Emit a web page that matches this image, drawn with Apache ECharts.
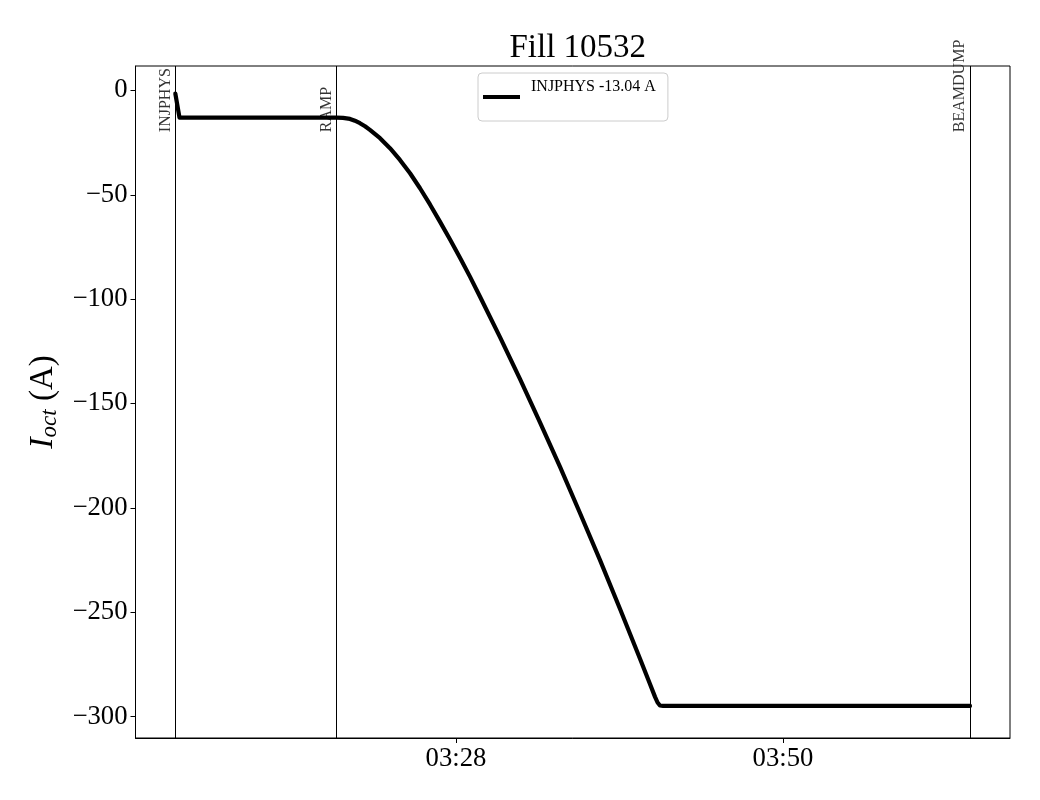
<!DOCTYPE html>
<html>
<head>
<meta charset="utf-8">
<script src="https://cdn.jsdelivr.net/npm/echarts@6/dist/echarts.min.js"></script>
<style>html,body{margin:0;padding:0;background:#fff;}#c{width:1040px;height:800px;}</style>
</head>
<body>
<div id="c"></div>
<script>
// time in minutes since 00:00 on the fill day
const timeMin = [189.12, 189.40, 199.96, 200.40, 200.87, 201.20, 201.54, 201.88, 202.21, 202.89, 203.56, 204.23, 204.91, 205.58, 206.25, 206.92, 207.60, 208.27, 208.94, 209.61, 210.96, 212.31, 213.65, 215.00, 216.34, 217.69, 219.03, 220.38, 221.05, 221.39, 221.56, 221.72, 221.93, 242.58];
const current = [-1.5, -13.04, -13.04, -13.13, -13.66, -14.52, -15.72, -17.20, -18.93, -22.91, -27.70, -33.31, -39.68, -46.87, -54.63, -62.87, -71.40, -80.13, -89.23, -98.72, -118.22, -138.30, -159.06, -180.43, -202.47, -225.09, -248.38, -272.29, -284.47, -290.60, -293.29, -294.72, -294.91, -294.91];
const eventNames = ['INJPHYS', 'RAMP', 'BEAMDUMP'];
const eventTimes = [189.12, 199.96, 242.58];
const eventLabelY = -20;
const xTicks = [208, 230];
const yTicks = [-300, -250, -200, -150, -100, -50, 0];
const seriesName = 'INJPHYS -13.04 A';
const titleText = 'Fill 10532';

const FONT = '"Liberation Serif", "DejaVu Serif", serif';
const fmtTime = v => {
  const h = Math.floor(v / 60), m = Math.round(v - h * 60);
  return String(h).padStart(2, '0') + ':' + String(m).padStart(2, '0');
};
const fmtY = v => v < 0 ? '\u2212' + Math.abs(v) : String(v);

const chart = echarts.init(document.getElementById('c'), null, {renderer: 'canvas'});
chart.setOption({
  animation: false,
  backgroundColor: '#fff',
  title: {
    text: titleText, left: 572.75, top: 27, textAlign: 'center',
    textStyle: {fontFamily: FONT, fontSize: 33, fontWeight: 'normal', color: '#000'}
  },
  legend: {
    data: [seriesName], left: 478, top: 73, orient: 'vertical',
    padding: [4, 12, 4, 5], itemWidth: 37, itemHeight: 4, icon: 'rect',
    borderColor: '#cccccc', borderWidth: 1, borderRadius: 4, backgroundColor: '#fff',
    formatter: n => n + '\n ',
    textStyle: {fontFamily: FONT, fontSize: 16, color: '#000', lineHeight: 20, padding: [0, 0, 0, 6]}
  },
  grid: {left: 135.5, right: 30, top: 66, bottom: 62, show: true, borderColor: '#000', borderWidth: 1, containLabel: false},
  xAxis: {
    type: 'value', min: 186.44, max: 245.27,
    axisLine: {show: true, onZero: false, lineStyle: {color: '#000', width: 1}},
    axisTick: {show: true, length: 5, lineStyle: {color: '#000'}, customValues: xTicks},
    axisLabel: {customValues: xTicks, formatter: fmtTime, fontFamily: FONT, fontSize: 26.7, color: '#000', margin: 7},
    splitLine: {show: false}
  },
  yAxis: {
    type: 'value', min: -310.3, max: 11.7,
    name: '{i|I}{s|oct}{n| (A)}', nameLocation: 'middle', nameGap: 72,
    nameTextStyle: {
      fontFamily: FONT, color: '#000',
      rich: {
        i: {fontFamily: FONT, fontSize: 34, fontStyle: 'italic', color: '#000'},
        s: {fontFamily: FONT, fontSize: 23, fontStyle: 'italic', color: '#000', padding: [14, 0, 0, 0]},
        n: {fontFamily: FONT, fontSize: 33, color: '#000'}
      }
    },
    axisLine: {show: true, onZero: false, lineStyle: {color: '#000', width: 1}},
    axisTick: {show: true, length: 5, lineStyle: {color: '#000'}, customValues: yTicks},
    axisLabel: {customValues: yTicks, formatter: fmtY, fontFamily: FONT, fontSize: 26.7, color: '#000', margin: 8},
    splitLine: {show: false}
  },
  series: [
    {
      name: seriesName, type: 'line', showSymbol: false, smooth: false,
      data: timeMin.map((t, i) => [t, current[i]]),
      lineStyle: {color: '#000', width: 4.2, join: 'round', cap: 'round'},
      itemStyle: {color: '#000'},
      markLine: {
        silent: true, symbol: 'none', animation: false,
        label: {show: false},
        lineStyle: {color: '#000', width: 1, type: 'solid'},
        data: eventTimes.map(t => ({xAxis: t}))
      },
      z: 3
    },
    {
      name: 'events', type: 'scatter', symbolSize: 0, silent: true,
      data: eventTimes.map((t, i) => ({value: [t, eventLabelY], name: eventNames[i]})),
      label: {
        show: true, formatter: p => p.name, position: [-2, 0], rotate: 90,
        align: 'left', verticalAlign: 'bottom',
        fontFamily: FONT, fontSize: 16, color: '#000'
      },
      z: 4
    }
  ]
});
</script>
</body>
</html>
